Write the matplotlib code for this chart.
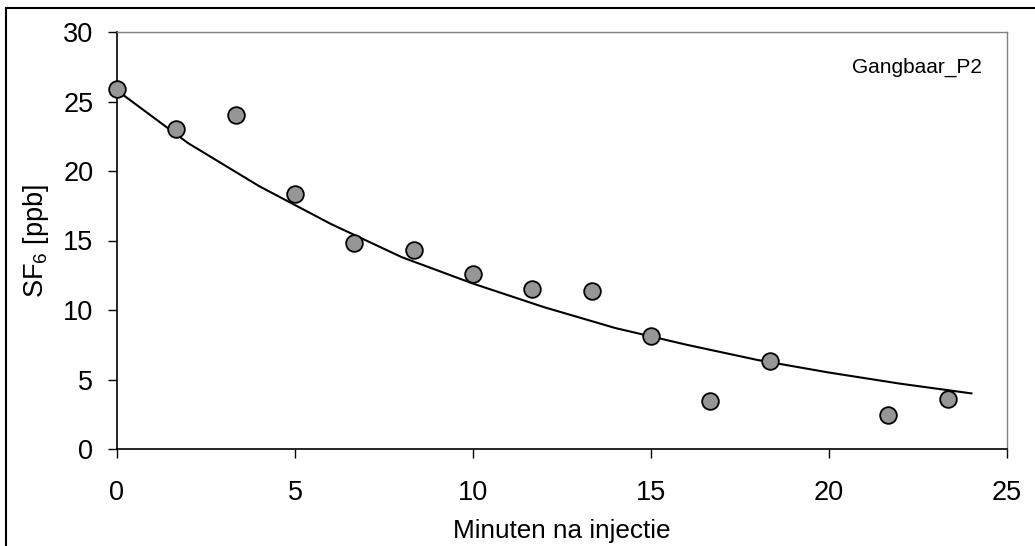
import matplotlib
matplotlib.use("Agg")
import matplotlib.pyplot as plt
from matplotlib.patches import Rectangle

plt.rcParams['font.family'] = ['Liberation Sans', 'DejaVu Sans']
plt.rcParams['mathtext.fontset'] = 'custom'
plt.rcParams['mathtext.rm'] = 'Liberation Sans'

# measured points
minutes = [0, 1.67, 3.33, 5.0, 6.67, 8.33, 10.0, 11.67, 13.33, 15.0, 16.67, 18.33, 21.67, 23.33]
sf6 = [25.9, 23.0, 24.0, 18.35, 14.85, 14.3, 12.6, 11.5, 11.35, 8.1, 3.45, 6.3, 2.45, 3.6]

# fitted curve
fit_x = [0, 2, 4, 6, 8, 10, 12, 14, 16, 18, 20, 22, 24]
fit_y = [25.8, 22.0, 18.9, 16.2, 13.8, 11.9, 10.2, 8.7, 7.5, 6.4, 5.5, 4.7, 4.0]

xticks = [0, 5, 10, 15, 20, 25]
yticks = [0, 5, 10, 15, 20, 25, 30]

fig = plt.figure(figsize=(10.35, 5.46), dpi=100)
ax = fig.add_axes([117/1035, 1-449/546, (1007-117)/1035, (449-32)/546])

ax.plot(fit_x, fit_y, color='black', lw=1.5, zorder=2)
ax.plot(minutes, sf6, linestyle='none', marker='o', markersize=12,
        markerfacecolor='#969696', markeredgecolor='black', markeredgewidth=1.3,
        zorder=3, clip_on=False)

ax.set_xlim(0, 25)
ax.set_ylim(0, 30)
ax.set_xticks(xticks)
ax.set_yticks(yticks)
ax.tick_params(axis='both', direction='out', length=6.5, width=1, labelsize=19.5, colors='black')
ax.tick_params(axis='x', pad=15.5)
ax.tick_params(axis='y', pad=10.5)

for s in ['top', 'right']:
    ax.spines[s].set_color('#808080')
    ax.spines[s].set_linewidth(1)
for s in ['left', 'bottom']:
    ax.spines[s].set_color('black')
    ax.spines[s].set_linewidth(1.2)

ax.set_xlabel('Minuten na injectie', fontsize=18.8, labelpad=10)
ax.set_ylabel(r'SF$_\mathregular{6}$ [ppb]', fontsize=19.5, labelpad=9)

fig.text(982/1035, 1 - 73/546, 'Gangbaar_P2', ha='right', va='baseline', fontsize=15)

fig.patches.append(Rectangle((6/1035, -0.5), 2.0, 0.5 + 1 - 8/546, transform=fig.transFigure,
                             fill=False, edgecolor='black', linewidth=1.5, zorder=0))

fig.savefig('out.png', dpi=100)
